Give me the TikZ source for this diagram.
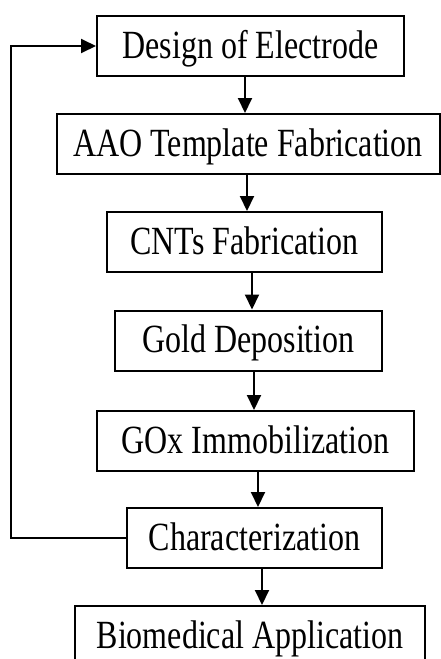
\documentclass[tikz,border=0pt]{standalone}
\usepackage{fontspec}
\usepackage{graphicx}
\setmainfont{Liberation Serif}
\usetikzlibrary{arrows.meta}
\newcommand{\tallbox}[1]{\scalebox{1}[1.25]{#1}}
\begin{document}
\begin{tikzpicture}[x=1pt, y=-1pt, >={Triangle[length=15pt,width=14pt]}, line width=2pt,
    every node/.style={draw, font=\fontsize{32}{36}\selectfont, text height=27pt, text depth=3pt, inner sep=0pt}]
    \useasboundingbox (0,0) rectangle (440,659);

    % process boxes
    \foreach \cx/\cy/\w/\t[count=\i] in {250.5/46/307/Design of Electrode,
        248/144/383/AAO Template Fabrication, 244.5/242/275/CNTs Fabrication,
        248.5/340.5/267/Gold Deposition, 255.5/441/317/GOx Immobilization,
        254.5/538/255/Characterization, 250/636/350/Biomedical Application}
    {\node(b\i)[minimum width=\w pt, minimum height=60pt]at(\cx,\cy){\tallbox{\t}};}

    % arrows
    \foreach \x/\i/\j in {245/1/2, 247/2/3, 252/3/4, 254/4/5, 258/5/6, 262/6/7}
    {\draw[->](\x,0|-b\i.south)--(\x,0|-b\j.north);}

    % feedback loop
    \draw[->](b6.west)--++(-115,0)|-(b1.west);
\end{tikzpicture}
\end{document}
